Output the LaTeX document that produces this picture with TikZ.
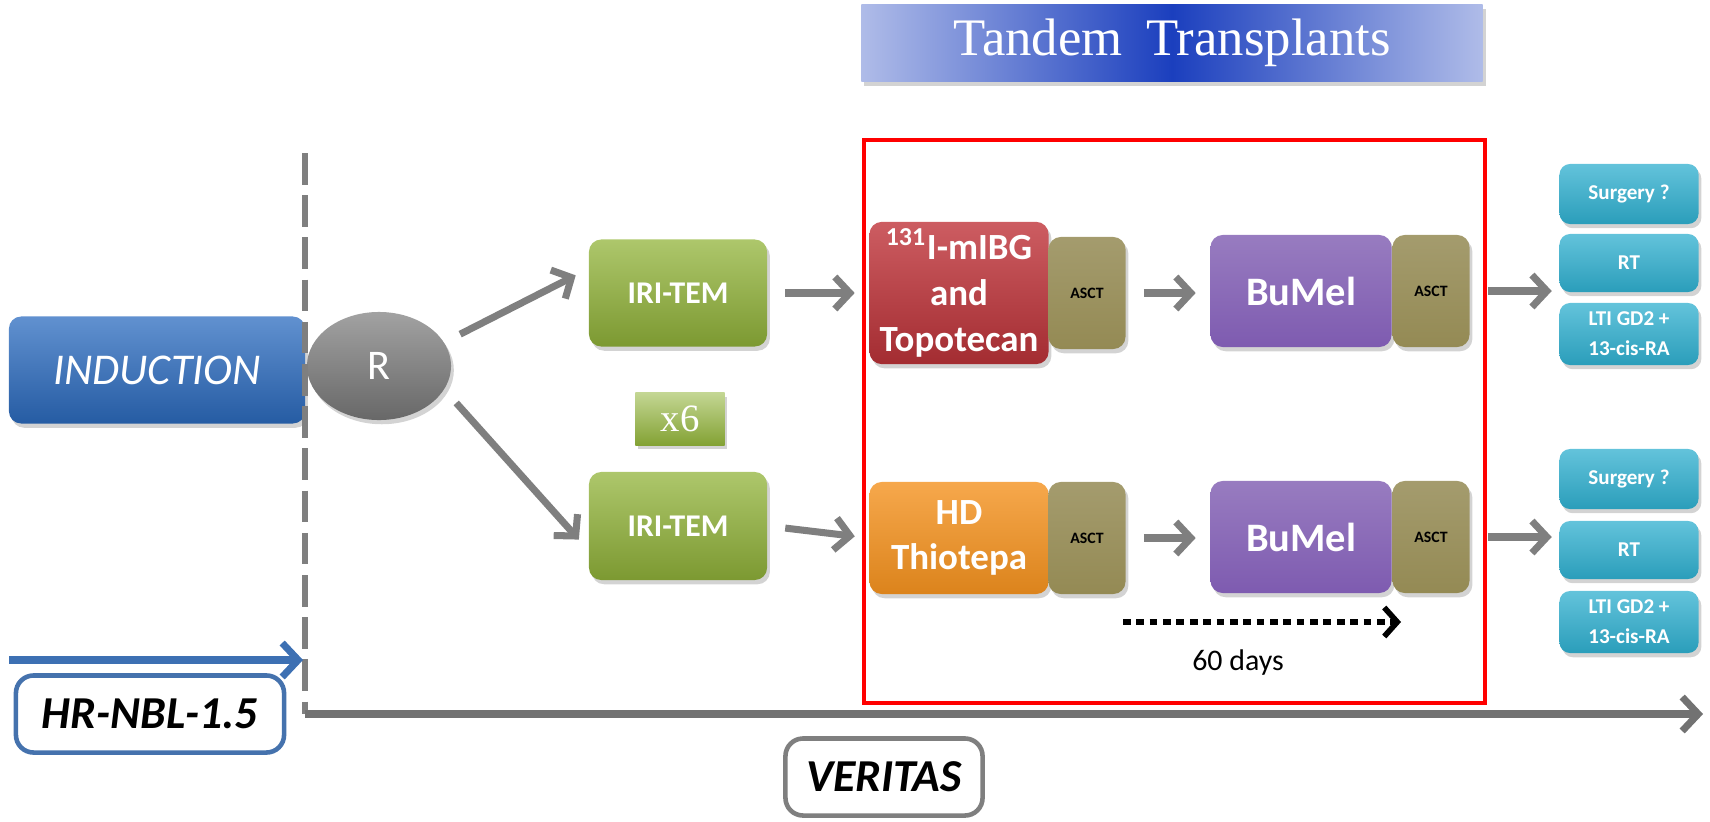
\documentclass[tikz,border=0pt]{standalone}
\usepackage{fontspec}
\setmainfont{Carlito}
\newfontfamily\ttlfont{Liberation Serif}
\usetikzlibrary{arrows.meta,positioning,shapes.geometric,shadows}

\definecolor{indblue}{HTML}{2C6CC0}
\definecolor{rgray}{HTML}{7A7A7A}
\definecolor{irigreen}{HTML}{92B43A}
\definecolor{mibgred}{HTML}{C0343A}
\definecolor{thioorange}{HTML}{F4921F}
\definecolor{asctol}{HTML}{948A54}
\definecolor{bmpurple}{HTML}{7E5BB0}
\definecolor{sideteal}{HTML}{2FAFCF}
\definecolor{arrgray}{HTML}{7F7F7F}
\definecolor{ttlblue}{HTML}{1B3FBE}

\begin{document}
\begin{tikzpicture}[x=0.01cm,y=-0.01cm,font=\fontsize{10}{12}\selectfont,
  shd/.style={drop shadow={opacity=0.35,shadow xshift=0.8pt,shadow yshift=-1.2pt}},
  box/.style={shd,rounded corners=3.5pt,align=center,text=white,inner sep=2pt,
    minimum width=1.79cm,minimum height=1.12cm,font=\bfseries\fontsize{10.5}{13}\selectfont},
  asct/.style={box,top color=asctol!85!white,bottom color=asctol,minimum width=0.77cm,
    text=black,font=\bfseries\fontsize{4.5}{5}\selectfont},
  bumel/.style={box,top color=bmpurple!80!white,bottom color=bmpurple,minimum width=1.81cm,
    font=\bfseries\fontsize{11.5}{14}\selectfont},
  side/.style={box,top color=sideteal!75!white,bottom color=sideteal!90!black,
    minimum width=1.39cm,minimum height=0.6cm,rounded corners=3pt,
    font=\bfseries\fontsize{6}{8.5}\selectfont},
  tag/.style={draw,line width=1.3pt,rounded corners=5pt,fill=white,
    font=\bfseries\itshape\fontsize{13}{15}\selectfont,minimum height=0.77cm},
  flow/.style={-{Straight Barb[length=1.5mm,width=3.2mm]},line width=2pt,draw=arrgray,
    shorten <=5pt,shorten >=4pt}]
\useasboundingbox (0,0) rectangle (1710,821);

% heading and transplant frame
\node[shd,left color=ttlblue!35!white,right color=ttlblue!35!white,middle color=ttlblue,
  minimum width=6.21cm,minimum height=0.77cm,text=white,
  font=\ttlfont\fontsize{15}{17}\selectfont] (title) at (1172,43) {Tandem\hspace{0.45em}Transplants};
\draw[red,line width=1.3pt] (864,140) rectangle (1485,703);

% induction and randomisation
\node[box,top color=indblue!75!white,bottom color=indblue!85!black,minimum width=2.96cm,
  minimum height=1.07cm,font=\itshape\fontsize{12.5}{14}\selectfont] (induct) at (157,370) {INDUCTION};
\node[shd,ellipse,top color=rgray!70!white,bottom color=rgray!85!black,minimum width=1.44cm,
  minimum height=1.08cm,text=white,font=\fontsize{12}{14}\selectfont] (rnd) at (379,366) {R};

% timeline axes
\draw[arrgray,line width=1.6pt,dashed,dash pattern=on 9pt off 3pt] (305,153) coordinate (top) -- (305,714) coordinate (corner);
\coordinate (axend) at (1703,714);
\draw[arrgray!90!black,line width=2pt,-{Straight Barb[length=1.6mm,width=3.4mm]}] (corner) -- (axend);
\coordinate (hrstart) at (9,660);
\coordinate (hrend) at (303,660);
\draw[indblue!80!gray,line width=2pt,-{Straight Barb[length=1.6mm,width=3.4mm]}] (hrstart) -- (hrend);
\node[tag,draw=indblue!70!gray,minimum width=2.68cm] (hrnbl) at (150,714) {HR-NBL-1.5};
\node[tag,draw=arrgray,minimum width=1.97cm] (veritas) at (884,777) {VERITAS};

% consolidation arms
\node[box,top color=irigreen!75!white,bottom color=irigreen!85!black,minimum width=1.78cm,
  minimum height=1.07cm,font=\bfseries\fontsize{9}{11}\selectfont] (iriA) at (678,293) {IRI-TEM};
\node[box,top color=irigreen!75!white,bottom color=irigreen!85!black,minimum width=1.78cm,
  minimum height=1.08cm,font=\bfseries\fontsize{9}{11}\selectfont] (iriB) at (678,526) {IRI-TEM};
\node[shd,top color=irigreen!55!white,bottom color=irigreen!90!black,minimum width=0.89cm,
  minimum height=0.52cm,text=white,font=\ttlfont\fontsize{11}{13}\selectfont] (times) at (680,419) {x6};

% first line of transplants
\node[box,top color=mibgred!80!white,bottom color=mibgred!85!black] (mibg) at (959,293)
  {\textsuperscript{131}I-mIBG\\and\\Topotecan};
\node[asct] (asctA) at (1087,293) {ASCT};
\node[bumel] (bumelA) at (1301,291) {BuMel};
\node[asct] (asctB) at (1431,291) {ASCT};

% second line of transplants
\node[box,top color=thioorange!80!white,bottom color=thioorange!90!black] (thio) at (959,538)
  {HD\\Thiotepa};
\node[asct] (asctC) at (1087,538) {ASCT};
\node[bumel] (bumelB) at (1301,537) {BuMel};
\node[asct] (asctD) at (1431,537) {ASCT};

% maintenance options
\node[side] (surgA) at (1629,194) {Surgery ?};
\node[side,minimum height=0.58cm] (rtA) at (1629,263) {RT};
\node[side,minimum height=0.62cm] (ltiA) at (1629,334) {LTI GD2 +\\13-cis-RA};
\node[side] (surgB) at (1629,479) {Surgery ?};
\node[side,minimum height=0.58cm] (rtB) at (1629,550) {RT};
\node[side,minimum height=0.62cm] (ltiB) at (1629,622) {LTI GD2 +\\13-cis-RA};

% connectors
\draw[flow] (rnd.20) -- (iriA.165);
\draw[flow] (rnd.-20) -- (iriB.195);
\draw[flow] (iriA.east) -- (mibg.west);
\draw[flow] (iriB.east) -- (thio.west);
\draw[flow] (asctA.east) -- (bumelA.west |- asctA.east);
\draw[flow] (asctC.east) -- (bumelB.west |- asctC.east);
\draw[flow,shorten >=2pt] (asctB.east) -- (asctB.east -| rtA.west);
\draw[flow,shorten >=2pt] (asctD.east) -- (asctD.east -| rtB.west);

% interval between transplants
\coordinate (dstart) at (1123,622);
\coordinate (dend) at (1401,622);
\draw[line width=1.6pt,dash pattern=on 2.2pt off 1.6pt,-{Straight Barb[length=1.3mm,width=2.9mm]}] (dstart) -- (dend);
\node[font=\fontsize{8.5}{10}\selectfont] (days) at (1238,663) {60 days};
\end{tikzpicture}
\end{document}
